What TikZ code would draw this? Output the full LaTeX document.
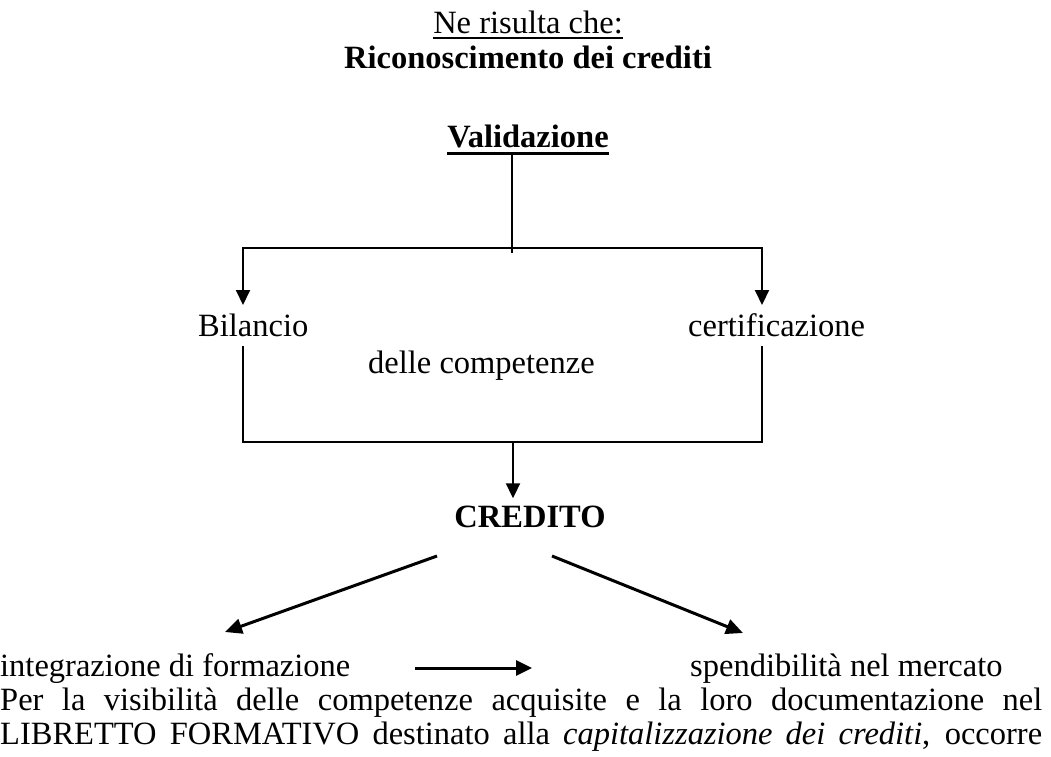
\documentclass[tikz,border=0pt]{standalone}
\usepackage{fontspec}
\setmainfont{Liberation Serif}
\usetikzlibrary{arrows.meta, positioning}

\begin{document}
\begin{tikzpicture}[x=1pt, y=-1pt, >={Triangle[length=15pt, width=14pt]},
  txt/.style={inner sep=0pt, font=\fontsize{32.5}{36}\selectfont},
  head/.style={inner sep=0pt, font=\fontsize{32.5}{36}\selectfont\bfseries},
  wire/.style={line width=2pt},
  thickwire/.style={line width=3pt}]
  \useasboundingbox (0,0) rectangle (1051,756);

  % titles
  \node[txt, anchor=base] (nerisulta) at (528,33) {Ne risulta che:};
  \node[head, anchor=base] (ricon) at (528,68) {Riconoscimento dei crediti};
  \node[head, anchor=base] (valid) at (528,147) {Validazione};
  \draw[line width=1.5pt] ([yshift=-5pt]nerisulta.base west) -- ([yshift=-5pt]nerisulta.base east);
  \draw[line width=3pt] ([yshift=-6pt]valid.base west) -- ([yshift=-6pt]valid.base east);

  % branches
  \node[txt, anchor=base west] (bilancio) at (198,336) {Bilancio};
  \node[txt, anchor=base west] (certif) at (688,336) {certificazione};
  \node[txt, anchor=base west] (delle) at (368,373) {delle competenze};
  \node[head, anchor=base] (credito) at (530,527) {CREDITO};

  \coordinate (split) at (512,248);
  \coordinate (bl-tip) at (243,305);
  \coordinate (ce-tip) at (762,305);
  \coordinate (bl-low) at (243,346);
  \coordinate (ce-low) at (762,346);
  \coordinate (merge) at (513,442);

  \draw[line width=1.5pt] ([yshift=-6pt]valid.base -| split) -- ([yshift=-5pt]split);
  \draw[wire, ->] (split) -| (bl-tip);
  \draw[wire, ->] (split) -| (ce-tip);
  \draw[wire] (bl-low) |- (merge) -| (ce-low);
  \draw[wire, ->] (merge) -- ([yshift=7pt]credito.north -| merge);

  % results
  \node[txt, anchor=base west] (integr) at (0,676) {integrazione di formazione};
  \node[txt, anchor=base west] (spend) at (690,676) {spendibilità nel mercato};

  \coordinate (cr-left) at (437,556);
  \coordinate (cr-right) at (552,556);
  \coordinate (in-tip) at (225,632);
  \coordinate (sp-tip) at (743,633);
  \coordinate (flow-a) at (415,668);
  \coordinate (flow-b) at (532,668);

  \draw[thickwire, -{Triangle[length=17pt, width=15pt]}] (cr-left) -- (in-tip);
  \draw[thickwire, -{Triangle[length=17pt, width=15pt]}] (cr-right) -- (sp-tip);
  \draw[thickwire, -{Triangle[length=16pt, width=15pt]}] (flow-a) -- (flow-b);

  % closing text, each line spread to the full width
  \node[txt, anchor=base west] (line1) at (0,710)
    {\makebox[1042pt][s]{Per la visibilità delle competenze acquisite e la loro documentazione nel}};
  \node[txt, anchor=base west] (line2) at (0,744)
    {\makebox[1042pt][s]{LIBRETTO FORMATIVO destinato alla \emph{capitalizzazione dei crediti}, occorre}};
\end{tikzpicture}
\end{document}
